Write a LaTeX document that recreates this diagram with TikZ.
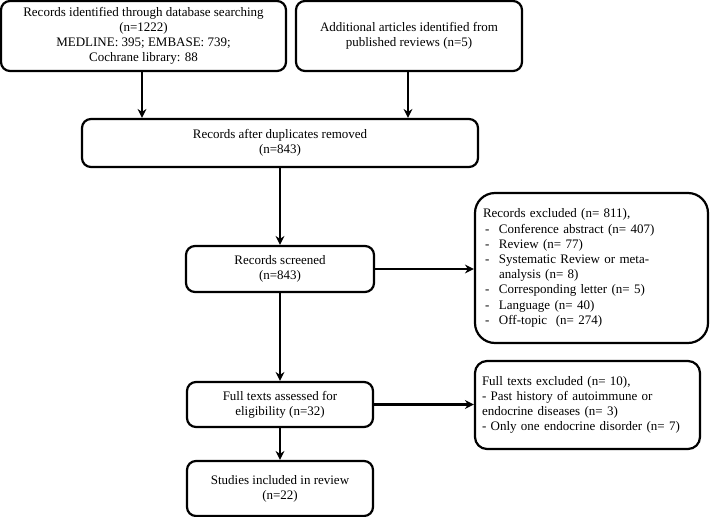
\documentclass[tikz,border=0pt]{standalone}
\usepackage{fontspec}
\setmainfont{Liberation Serif}
\usetikzlibrary{arrows.meta}
\newcommand\itm{\makebox[16pt][l]{\hspace{2pt}-}}
\begin{document}
\begin{tikzpicture}[x=1pt,y=-1pt,
  box/.style={draw, line width=2.2pt, rounded corners=9pt, align=center, inner sep=2pt,
    font=\fontsize{13}{15.2}\selectfont},
  lbox/.style={box, align=left},
  arr/.style={line width=2.2pt, -{Stealth[length=9pt,width=9pt,inset=3pt]}}]
\useasboundingbox (0,0) rectangle (710,517);
\node[box, minimum width=285pt, minimum height=70pt] (A) at (143.5,36)
  {Records identified through database searching\\(n=1222)\\MEDLINE: 395; EMBASE: 739;\\Cochrane library: 88};
\node[box, minimum width=226pt, minimum height=70pt] (B) at (409,36)
  {Additional articles identified from\\published reviews (n=5)};
\node[box, minimum width=396pt, minimum height=48pt] (C) at (280,143)
  {Records after duplicates removed\\(n=843)};
\node[box, minimum width=188pt, minimum height=46pt] (D) at (280,269)
  {Records screened\\(n=843)};
\node[lbox, rounded corners=20pt, minimum width=233pt, minimum height=150pt, text width=217pt] (E) at (591.5,268)
  {Records excluded (n= 811),\\
   \itm Conference abstract (n= 407)\\
   \itm Review (n= 77)\\
   \itm Systematic Review or meta-\\
   \hspace*{16pt}analysis (n= 8)\\
   \itm Corresponding letter (n= 5)\\
   \itm Language (n= 40)\\
   \itm Off-topic\ \ (n= 274)};
\node[box, minimum width=186pt, minimum height=45pt] (F) at (280,404.5)
  {Full texts assessed for\\eligibility (n=32)};
\node[lbox, rounded corners=12pt, minimum width=225pt, minimum height=88pt, text width=211pt] (G) at (587.5,405)
  {Full texts excluded (n= 10),\\
   - Past history of autoimmune or\\
   endocrine diseases (n= 3)\\
   - Only one endocrine disorder (n= 7)};
\node[box, minimum width=186pt, minimum height=55pt] (H) at (280,488.5)
  {Studies included in review\\(n=22)};
\coordinate (a1) at (142,71);
\coordinate (b1) at (408,71);
\draw[arr] (a1) -- (a1 |- C.north);
\draw[arr] (b1) -- (b1 |- C.north);
\draw[arr] (C.south) -- (D.north);
\draw[arr] (D.east) -- (D.east -| E.west);
\draw[arr] (D.south) -- (F.north);
\draw[arr] (F.east) -- (F.east -| G.west);
\draw[arr] (F.south) -- (H.north);
\end{tikzpicture}
\end{document}
